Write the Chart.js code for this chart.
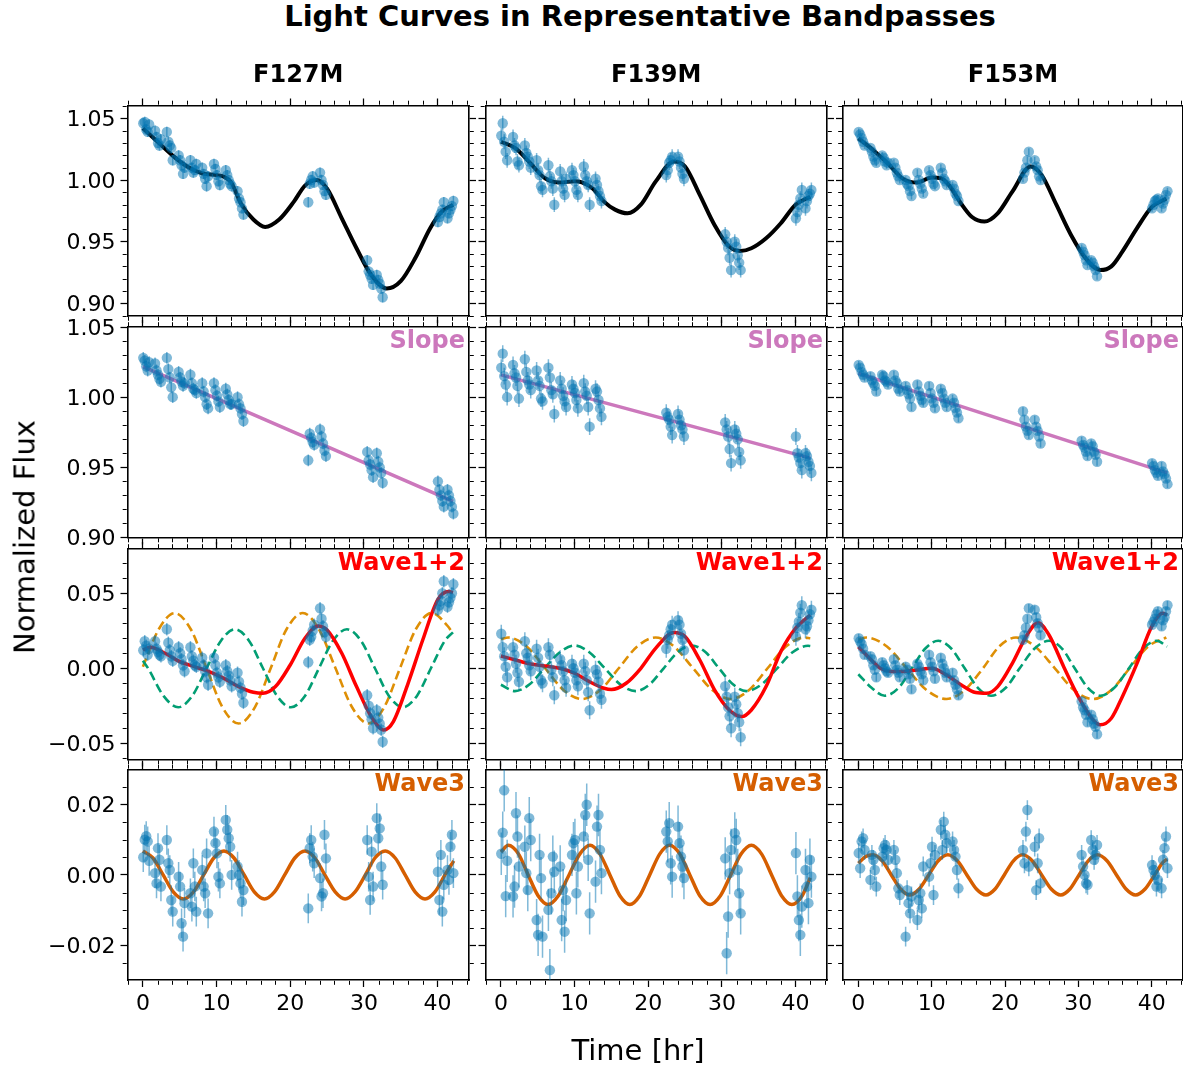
<!DOCTYPE html>
<html><head><meta charset="utf-8">
<script src="https://cdn.jsdelivr.net/npm/chart.js@4.4.1/dist/chart.umd.min.js"></script>
<style>
html,body{margin:0;padding:0;background:#fff;overflow:hidden;}
#fig{position:relative;width:1183px;height:1065px;overflow:hidden;font-family:"DejaVu Sans",sans-serif;color:#000;background:#fff;}
#fig canvas{position:absolute;}
.txt{position:absolute;white-space:nowrap;line-height:1;z-index:5;}
</style></head><body><div id="fig"></div>
<script>
// ---------------- DATA ----------------
const bands = ['F127M', 'F139M', 'F153M'];
const panelLabels = ['', 'Slope', 'Wave1+2', 'Wave3'];
const errF = [0.0042, 0.006, 0.0028];

const times = [
0.05,0.25,0.45,0.65,0.85, 1.65,1.85,2.05,2.25,2.45, 3.25,3.45,3.65,3.85,4.05,
4.85,5.05,5.25,5.45,5.65, 6.45,6.65,6.85,7.05,7.25, 8.05,8.25,8.45,8.65,8.85,
9.65,9.85,10.05,10.25,10.45, 11.25,11.45,11.65,11.85,12.05, 12.85,13.05,13.25,13.45,13.65,
22.45,22.65,22.85,23.05,23.25, 24.05,24.25,24.45,24.65,24.85,
30.45,30.65,30.85,31.05,31.25, 31.75,31.95,32.15,32.35,32.55,
40.05,40.25,40.45,40.65,40.85, 41.35,41.55,41.75,41.95,42.15];

// Row 1: full light curves
const full127 = [
1.046,1.047,1.041,1.039,1.045, 1.040,1.035,1.030,1.028,1.033, 1.039,1.031,1.028,1.026,1.016,
1.020,1.016,1.012,1.005,1.010, 1.016,1.010,1.006,1.008,1.013, 1.010,1.005,1.001,0.995,1.003,
1.013,1.009,1.004,0.999,0.996, 1.008,1.004,1.000,0.997,0.995, 0.991,0.985,0.982,0.977,0.972,
0.982,0.997,1.000,1.003,0.998, 1.006,1.000,0.996,0.991,0.988,
0.935,0.926,0.923,0.920,0.915, 0.923,0.919,0.916,0.912,0.905,
0.966,0.970,0.973,0.976,0.982, 0.969,0.973,0.976,0.979,0.983];
const full139 = [
1.036,1.046,1.031,1.023,1.016, 1.035,1.028,1.026,1.015,1.012, 1.028,1.022,1.019,1.015,1.010,
1.016,1.008,1.004,0.995,0.992, 1.012,1.003,0.999,0.993,0.980, 1.007,0.999,0.993,0.988,1.001,
1.008,1.004,0.999,0.992,0.988, 1.011,1.004,0.999,0.996,0.980, 1.001,0.996,0.991,0.987,0.983,
1.004,1.008,1.014,1.016,1.019, 1.019,1.015,1.010,1.005,1.001,
0.956,0.950,0.945,0.937,0.927, 0.950,0.946,0.939,0.933,0.927,
0.969,0.974,0.980,0.985,0.992, 0.977,0.983,0.987,0.989,0.992];
const full153 = [
1.039,1.037,1.034,1.031,1.028, 1.026,1.023,1.019,1.016,1.014, 1.020,1.018,1.015,1.012,1.014,
1.014,1.010,1.006,1.003,1.000, 1.000,0.997,0.995,0.991,0.987, 1.006,1.000,0.997,0.993,0.989,
1.008,1.004,1.001,0.997,0.995, 1.010,1.006,1.001,0.999,0.996, 0.996,0.993,0.989,0.987,0.983,
1.001,1.006,1.010,1.016,1.023, 1.016,1.011,1.008,1.003,1.000,
0.945,0.942,0.939,0.935,0.931, 0.935,0.933,0.930,0.927,0.922,
0.977,0.980,0.983,0.984,0.985, 0.977,0.981,0.984,0.988,0.991];

// Row 2: slope component
const slope127 = [
1.028,1.026,1.022,1.019,1.025, 1.024,1.019,1.016,1.013,1.011, 1.028,1.020,1.014,1.007,1.000,
1.018,1.014,1.011,1.008,1.010, 1.016,1.010,1.006,1.005,1.003, 1.010,1.004,1.000,0.995,0.992,
1.010,1.005,1.001,0.997,0.993, 1.006,1.002,0.998,0.995,0.995, 1.000,0.995,0.992,0.988,0.983,
0.955,0.974,0.971,0.968,0.966, 0.977,0.972,0.967,0.962,0.958,
0.961,0.955,0.952,0.948,0.943, 0.960,0.954,0.950,0.946,0.939,
0.940,0.934,0.930,0.926,0.922, 0.934,0.930,0.926,0.922,0.917];
const slope139 = [
1.021,1.031,1.015,1.009,1.000, 1.023,1.017,1.014,1.008,0.999, 1.027,1.018,1.012,1.009,1.005,
1.019,1.012,1.008,0.999,0.997, 1.021,1.014,1.005,1.002,0.988, 1.012,1.006,1.001,0.997,0.993,
1.009,1.006,1.003,0.998,0.992, 1.010,1.004,1.001,0.993,0.979, 1.006,1.004,0.998,0.992,0.986,
0.989,0.986,0.984,0.979,0.973, 0.988,0.984,0.980,0.977,0.972,
0.982,0.977,0.972,0.963,0.953, 0.977,0.974,0.970,0.961,0.955,
0.972,0.960,0.957,0.953,0.948, 0.960,0.958,0.954,0.951,0.946];
const slope153 = [
1.023,1.021,1.018,1.016,1.014, 1.015,1.012,1.010,1.008,1.004, 1.016,1.015,1.012,1.011,1.009,
1.016,1.012,1.010,1.006,1.004, 1.008,1.005,1.002,0.999,0.993, 1.009,1.004,1.001,0.998,0.996,
1.008,1.003,0.999,0.996,0.992, 1.006,1.003,0.999,0.996,0.993, 0.999,0.996,0.992,0.989,0.985,
0.990,0.984,0.979,0.976,0.973, 0.984,0.979,0.976,0.972,0.967,
0.969,0.966,0.964,0.961,0.958, 0.967,0.965,0.961,0.959,0.954,
0.953,0.951,0.948,0.946,0.944, 0.951,0.947,0.945,0.942,0.938];

// Row 3: wave 1+2 component
const wave127 = [
0.012,0.018,0.015,0.009,0.013, 0.018,0.013,0.011,0.009,0.008, 0.026,0.017,0.012,0.008,0.005,
0.014,0.010,0.006,0.002,-0.002, 0.014,0.008,0.005,0.002,0.001, 0.007,0.002,-0.002,-0.006,-0.011,
0.007,0.002,-0.003,-0.006,-0.009, 0.002,-0.002,-0.005,-0.008,-0.012, -0.003,-0.009,-0.013,-0.017,-0.023,
0.004,0.019,0.021,0.025,0.029, 0.040,0.033,0.028,0.024,0.021,
-0.018,-0.025,-0.030,-0.034,-0.040, -0.028,-0.033,-0.037,-0.041,-0.049,
0.039,0.042,0.045,0.050,0.058, 0.041,0.044,0.047,0.050,0.056];
const wave139 = [
0.023,0.014,0.008,0.001,-0.006, 0.014,0.009,0.003,-0.003,-0.009, 0.018,0.010,0.007,0.002,-0.002,
0.013,0.007,0.001,-0.008,-0.010, 0.014,0.009,-0.001,-0.006,-0.018, 0.006,0.002,-0.002,-0.008,-0.013,
0.003,0.000,-0.003,-0.008,-0.012, 0.003,-0.002,-0.008,-0.016,-0.028, -0.001,-0.004,-0.009,-0.017,-0.021,
0.013,0.019,0.022,0.026,0.029, 0.032,0.029,0.023,0.019,0.012,
-0.012,-0.019,-0.026,-0.032,-0.040, -0.019,-0.024,-0.030,-0.036,-0.046,
0.021,0.027,0.031,0.037,0.042, 0.026,0.028,0.032,0.036,0.039];
const wave153 = [
0.020,0.018,0.016,0.013,0.009, 0.008,0.006,0.002,-0.001,-0.006, 0.004,0.002,0.000,-0.002,-0.003,
0.006,0.002,-0.001,-0.003,-0.006, 0.001,-0.001,-0.004,-0.007,-0.014, 0.003,0.001,-0.002,-0.004,-0.008,
0.009,0.004,0.001,-0.002,-0.007, 0.007,0.003,0.000,-0.003,-0.006, -0.003,-0.008,-0.011,-0.014,-0.018,
0.019,0.022,0.027,0.033,0.040, 0.039,0.034,0.030,0.027,0.022,
-0.022,-0.026,-0.028,-0.031,-0.036, -0.031,-0.034,-0.037,-0.039,-0.044,
0.029,0.031,0.033,0.036,0.038, 0.028,0.032,0.034,0.038,0.042];

// Row 4: wave 3 component
const res127 = [
0.005,0.010,0.011,0.0095,0.004, 0.0005,-0.0024,0.0076,0.0043,-0.0033, 0.0099,0.0033,0.0014,-0.0071,-0.0104,
-0.0005,-0.0033,-0.0137,-0.0175,-0.008, -0.0052,-0.009,0.0033,-0.0033,-0.0104, 0.0014,-0.0033,-0.0052,0.0061,-0.0109,
0.0123,0.009,0.0061,-0.0005,-0.0024, 0.0156,0.0128,0.0104,0.008,0.0, 0.0024,0.0,-0.0024,-0.0076,-0.0043,
-0.0095,0.0076,0.0099,0.0052,0.0033, -0.0009,-0.0061,-0.0052,0.0114,0.0047,
0.0099,-0.0005,-0.0071,0.0066,-0.0033, 0.0161,0.0104,0.0132,0.0024,-0.0028,
0.0009,-0.0071,0.0057,-0.0104,-0.0028, 0.0014,-0.0014,0.008,0.0114,0.0005];
const res139 = [
0.006,0.012,0.024,-0.006,0.004, -0.0061,-0.0033,0.0175,0.0109,0.0024, 0.008,0.0005,-0.0043,0.0161,0.0099,
-0.0128,-0.017,0.0057,-0.0009,-0.0175, -0.0099,-0.027,-0.0052,0.0052,0.0009, 0.0024,-0.0128,-0.0043,-0.0161,-0.0071,
0.0057,0.009,0.0099,-0.0052,0.0024, 0.0109,0.017,0.0199,0.0043,-0.0109, -0.0019,0.0137,0.017,0.0071,0.0005,
0.0123,0.0095,0.0147,0.0033,-0.0005, 0.0137,0.009,0.0052,0.0024,-0.0009,
0.0047,-0.0222,-0.0118,0.0005,0.0071, 0.0118,0.0099,0.0014,-0.0052,-0.0109,
0.0062,-0.0061,-0.0128,-0.017,-0.009, 0.0014,-0.0033,-0.008,0.0043,-0.0005];
const res153 = [
0.0062,0.0019,0.0095,0.0104,0.0071, -0.0014,0.0057,0.0043,0.0014,-0.0033, 0.0052,0.0076,0.0085,0.0071,0.0043,
0.0071,0.0043,0.0005,-0.0038,-0.0057, -0.0175,-0.0043,-0.008,-0.0109,-0.0061, -0.0128,-0.0071,-0.0052,-0.0095,0.0024,
-0.0005,0.0033,0.008,-0.0057,0.0057, 0.0128,0.0071,0.0151,0.0114,0.009, 0.0095,0.0071,0.0052,0.0014,-0.0038,
0.0071,0.0033,0.0123,0.0184,0.0024, 0.008,-0.0043,0.0033,0.0104,-0.0024,
0.0057,0.0024,0.0,-0.0024,-0.0028, 0.0099,0.0071,0.0043,0.0057,0.0085,
0.0028,0.0014,0.0,-0.0033,-0.0014, -0.0038,0.0043,0.0076,0.0109,0.0019];

// Model curves, [time, value]
const fullModel127 = [[0,1.042],[2,1.031],[4,1.020],[6,1.011],[8,1.0055],[10,1.004],[11,1.0027],[12,0.998],[13.3,0.981],[15,0.968],[16.6,0.962],[18.5,0.968],[20.5,0.9825],[22,0.9955],[23.6,1.000],[25,0.993],[27,0.969],[29,0.9447],[31,0.923],[33.1,0.912],[35,0.918],[37,0.937],[39,0.961],[40.5,0.974],[42.1,0.980]];
const fullModel139 = [[0,1.031],[2,1.0257],[4,1.0136],[6,1.0014],[8,0.998],[10,0.999],[11,0.998],[12.5,0.993],[14,0.9825],[15.5,0.976],[17.2,0.973],[19,0.980],[21,0.9987],[23.5,1.015],[25,1.011],[27,0.988],[29,0.9636],[31,0.946],[32.5,0.9425],[34,0.9447],[36,0.9528],[38,0.965],[40,0.980],[42,0.9865]];
const fullModel153 = [[0,1.0338],[2,1.0244],[4,1.0136],[6,1.0014],[8,0.998],[10,1.002],[11.3,1.0014],[12.5,0.9947],[14,0.981],[15.5,0.970],[17.2,0.9663],[19,0.973],[21,0.9906],[23.5,1.011],[25,1.004],[27,0.980],[29,0.9555],[31,0.9366],[33,0.927],[34.5,0.930],[36,0.942],[38,0.961],[40,0.978],[42,0.985]];

const slopeModel127 = [[0,1.0218],[42.1,0.9258]];
const slopeModel139 = [[0,1.0159],[42,0.9566]];
const slopeModel153 = [[0,1.017],[42.1,0.946]];

const waveSum127 = [[0,0.0122],[1,0.014],[3,0.010],[5,0.0044],[7,0.0011],[9,-0.0022],[11,-0.0067],[13,-0.0122],[15,-0.016],[16.3,-0.0167],[18,-0.0122],[20,0.0022],[22,0.020],[23.8,0.0282],[25,0.0255],[27,0.010],[29,-0.0122],[31,-0.0322],[32.7,-0.0411],[34,-0.0355],[36,-0.010],[38,0.019],[40,0.0455],[41.5,0.0511],[42.1,0.0504]];
const waveA127 = [[0,0.001],[2.15,0.026],[4.3,0.0368],[6.5,0.026],[8.65,0],[10.8,-0.026],[13,-0.0368],[15.2,-0.026],[17.35,0],[19.5,0.026],[21.7,0.0368],[23.9,0.026],[26.15,0],[28.4,-0.026],[30.6,-0.0368],[32.75,-0.026],[34.9,0],[37.05,0.026],[39.2,0.0368],[41.4,0.028],[42.1,0.023]];
const waveB127 = [[0,0.005],[0.7,0],[2.8,-0.0184],[4.8,-0.026],[6.7,-0.0184],[8.65,0],[10.6,0.0184],[12.5,0.026],[14.4,0.0184],[16.3,0],[18.2,-0.0184],[20.1,-0.026],[22.0,-0.0184],[23.9,0],[25.8,0.0184],[27.7,0.026],[29.6,0.0184],[31.5,0],[33.4,-0.0184],[35.3,-0.026],[37.2,-0.0184],[39.1,0],[41.0,0.0184],[42.1,0.024]];

const waveSum139 = [[0,0.0082],[2,0.0055],[4,0.0029],[6,0.0016],[8,0.0],[10,-0.0033],[12,-0.0089],[14,-0.0133],[15,-0.0142],[17,-0.010],[19,0],[21,0.0133],[23.5,0.0238],[25,0.0211],[27,0.0055],[29,-0.0144],[31,-0.0278],[32.7,-0.0322],[34,-0.0278],[36,-0.0122],[38,0.0111],[40,0.0266],[42,0.0355]];
const waveA139 = [[0,0.0195],[1.0,0.0205],[3.5,0.0145],[6.0,0.0],[8.5,-0.0145],[11.0,-0.0205],[13.5,-0.0145],[16.0,0.0],[18.5,0.0145],[21.0,0.0205],[23.5,0.0145],[26.1,0.0],[28.7,-0.0145],[31.2,-0.0205],[33.7,-0.0145],[36.2,0.0],[38.7,0.0145],[41.2,0.0205],[42.0,0.020]];
const waveB139 = [[0,-0.011],[1.9,-0.0152],[3.9,-0.0107],[5.9,0.0],[8.0,0.0107],[10.0,0.0152],[12.0,0.0107],[14.1,0.0],[16.2,-0.0107],[18.3,-0.0152],[20.2,-0.0107],[22.1,0.0],[24.0,0.0107],[25.9,0.0152],[27.8,0.0107],[29.6,0.0],[31.5,-0.0107],[33.3,-0.0152],[35.4,-0.0107],[37.5,0.0],[39.6,0.0107],[41.7,0.0150],[42.0,0.0148]];

const waveSum153 = [[0,0.0144],[2,0.0044],[3,0],[4.5,-0.0022],[6,-0.0022],[8,-0.0011],[10,0],[12,-0.0044],[14,-0.011],[16,-0.0162],[17.5,-0.0167],[19,-0.0122],[21,0.0033],[23,0.0222],[24.5,0.0304],[26,0.0222],[28,0.0011],[30,-0.0189],[32,-0.0344],[33,-0.0377],[34.5,-0.0333],[36,-0.0189],[38,0.0033],[40,0.0278],[41.5,0.0366],[42.1,0.0355]];
const waveA153 = [[0,0.019],[1.1,0.0205],[3.9,0.0145],[6.6,0.0],[9.3,-0.0145],[12.0,-0.0205],[14.5,-0.0145],[17.0,0.0],[19.2,0.0145],[21.5,0.0205],[24.1,0.0145],[26.8,0.0],[29.4,-0.0145],[32.0,-0.0205],[34.5,-0.0145],[37.0,0.0],[39.5,0.0145],[42.0,0.0205]];
const waveB153 = [[0,-0.004],[1.8,-0.013],[3.6,-0.0183],[5.5,-0.013],[7.3,0.0],[9.1,0.013],[10.9,0.0183],[12.7,0.013],[14.5,0.0],[16.3,-0.013],[18.1,-0.0183],[20.1,-0.013],[22.0,0.0],[24.0,0.013],[26.0,0.0183],[27.8,0.013],[29.5,0.0],[31.3,-0.013],[33.0,-0.0183],[34.9,-0.013],[36.9,0.0],[38.8,0.013],[40.7,0.0183],[42.1,0.0145]];

const wave3Model127 = [[0,0.0068],[1.37,0.0048],[2.75,0],[4.12,-0.0048],[5.5,-0.0068],[6.87,-0.0048],[8.25,0],[9.62,0.0048],[11,0.0068],[12.37,0.0048],[13.75,0],[15.12,-0.0048],[16.5,-0.0068],[17.87,-0.0048],[19.25,0],[20.62,0.0048],[22,0.0068],[23.36,0.0048],[24.7,0],[26.1,-0.0048],[27.45,-0.0068],[28.8,-0.0048],[30.2,0],[31.5,0.0048],[32.9,0.0068],[34.25,0.0048],[35.6,0],[36.95,-0.0048],[38.3,-0.0068],[39.65,-0.0048],[41.0,0],[42.2,0.0040]];
const wave3Model139 = [[0,0.0065],[1.0,0.0084],[2.4,0.0059],[3.7,0],[5.05,-0.0059],[6.4,-0.0084],[7.8,-0.0059],[9.25,0],[10.7,0.0059],[12.1,0.0084],[13.45,0.0059],[14.8,0],[16.15,-0.0059],[17.5,-0.0084],[18.85,-0.0059],[20.2,0],[21.55,0.0059],[22.9,0.0084],[24.3,0.0059],[25.65,0],[27.0,-0.0059],[28.4,-0.0084],[29.8,-0.0059],[31.2,0],[32.6,0.0059],[34.0,0.0084],[35.4,0.0059],[36.75,0],[38.1,-0.0059],[39.5,-0.0084],[40.9,-0.0059],[42.0,-0.0008]];
const wave3Model153 = [[0,0.0033],[1.0,0.0052],[2.0,0.0057],[3.25,0.004],[4.5,0],[5.75,-0.004],[7.0,-0.0057],[8.3,-0.004],[9.6,0],[10.9,0.004],[12.2,0.0057],[13.5,0.004],[14.8,0],[16.1,-0.004],[17.4,-0.0057],[18.65,-0.004],[19.9,0],[21.15,0.004],[22.4,0.0057],[23.7,0.004],[25.0,0],[26.3,-0.004],[27.6,-0.0057],[28.85,-0.004],[30.1,0],[31.35,0.004],[32.6,0.0057],[33.9,0.004],[35.2,0],[36.5,-0.004],[37.8,-0.0057],[39.1,-0.004],[40.4,0],[41.5,0.0035],[42.1,0.0045]];

// Axis specs
const xMin = -2.09, xMax = 44.27, xMajor = 10, xMinor = 2;
const rowYMin = [0.8898, 0.90, -0.0608, -0.0298];
const rowYMax = [1.0604, 1.05, 0.0795, 0.0299];
const rowMajor = [0.05, 0.05, 0.05, 0.02];
const rowMinor = [0.01, 0.01, 0.01, 0.005];

// ---------------- STYLES / LAYOUT ----------------
const C_PTS = 'rgba(1,115,178,0.5)';
const C_BLACK = '#000000', C_SLOPE = '#cc78bc', C_RED = '#ff0000', C_ORANGE = '#de8f05', C_GREEN = '#029e73', C_W3 = '#d55e00';
const labelColors = ['', C_SLOPE, C_RED, C_W3];
const colLeft = [127.5, 485.5, 843];
const colWidth = [341.5, 341.5, 340];
const rowTop = [105.5, 327, 549, 769.5];
const panelH = 210.5;
const TICK_FONT = 22;
const MARGIN = 24;

const ptsByRow = [[full127, full139, full153],[slope127, slope139, slope153],[wave127, wave139, wave153],[res127, res139, res153]];
const curvesByRow = [
  [[{d:fullModel127,c:C_BLACK,w:4}],[{d:fullModel139,c:C_BLACK,w:4}],[{d:fullModel153,c:C_BLACK,w:4}]],
  [[{d:slopeModel127,c:C_SLOPE,w:3.5}],[{d:slopeModel139,c:C_SLOPE,w:3.5}],[{d:slopeModel153,c:C_SLOPE,w:3.5}]],
  [[{d:waveA127,c:C_ORANGE,w:2.6,dash:[9,4.5]},{d:waveB127,c:C_GREEN,w:2.6,dash:[9,4.5]},{d:waveSum127,c:C_RED,w:3.5}],
   [{d:waveA139,c:C_ORANGE,w:2.6,dash:[9,4.5]},{d:waveB139,c:C_GREEN,w:2.6,dash:[9,4.5]},{d:waveSum139,c:C_RED,w:3.5}],
   [{d:waveA153,c:C_ORANGE,w:2.6,dash:[9,4.5]},{d:waveB153,c:C_GREEN,w:2.6,dash:[9,4.5]},{d:waveSum153,c:C_RED,w:3.5}]],
  [[{d:wave3Model127,c:C_W3,w:3.5}],[{d:wave3Model139,c:C_W3,w:3.5}],[{d:wave3Model153,c:C_W3,w:3.5}]]
];

Chart.defaults.font.family = "'DejaVu Sans', sans-serif";
Chart.defaults.color = '#000';
const fig = document.getElementById('fig');

const errBarPlugin = {
  id: 'errBars',
  beforeDatasetDraw(chart, args) {
    const ds = chart.data.datasets[args.index];
    if (ds.errY == null) return;
    const ctx = chart.ctx, xs = chart.scales.x, ys = chart.scales.y, a = chart.chartArea;
    ctx.save();
    ctx.beginPath(); ctx.rect(a.left, a.top, a.right - a.left, a.bottom - a.top); ctx.clip();
    ctx.strokeStyle = ds.errColor; ctx.lineWidth = 1.5;
    ds.data.forEach(p => {
      const px = xs.getPixelForValue(p.x);
      ctx.beginPath();
      ctx.moveTo(px, ys.getPixelForValue(p.y - ds.errY));
      ctx.lineTo(px, ys.getPixelForValue(p.y + ds.errY));
      ctx.stroke();
    });
    ctx.restore();
  }
};

function eachMinor(min, max, step, major, fn) {
  for (let k = Math.ceil(min / step - 1e-9); k * step <= max + 1e-12; k++) {
    const v = k * step, q = v / major;
    if (Math.abs(q - Math.round(q)) < 1e-6) continue;
    fn(v);
  }
}
const minorTickPlugin = {
  id: 'minorTicks',
  afterDraw(chart, args, o) {
    const ctx = chart.ctx, a = chart.chartArea, xs = chart.scales.x, ys = chart.scales.y;
    const L = 4, off = 0.8;
    ctx.save(); ctx.strokeStyle = '#000'; ctx.lineWidth = 1; ctx.beginPath();
    eachMinor(xs.min, xs.max, o.xStep, o.xMajor, v => {
      const p = Math.round(xs.getPixelForValue(v)) + 0.5;
      ctx.moveTo(p, a.bottom + off); ctx.lineTo(p, a.bottom + off + L);
      ctx.moveTo(p, a.top - off); ctx.lineTo(p, a.top - off - L);
    });
    eachMinor(ys.min, ys.max, o.yStep, o.yMajor, v => {
      const p = Math.round(ys.getPixelForValue(v)) + 0.5;
      ctx.moveTo(a.left - off, p); ctx.lineTo(a.left - off - L, p);
      ctx.moveTo(a.right + off, p); ctx.lineTo(a.right + off + L, p);
    });
    ctx.stroke(); ctx.restore();
  }
};

const fmtY = v => { const a = Math.abs(v) < 1e-9 ? 0 : v; return (a < 0 ? '\u2212' : '') + Math.abs(a).toFixed(2); };
const gridOpts = {display: true, drawOnChartArea: false, drawTicks: true, tickLength: 7, tickWidth: 1.25, tickColor: '#000', color: '#000'};
const borderOpts = {display: true, color: '#000', width: 1.6};

function axisX(pos, labels, size) {
  return {type: 'linear', position: pos, min: xMin, max: xMax, bounds: 'ticks',
    ticks: {display: labels, stepSize: xMajor, includeBounds: false, autoSkip: false, maxRotation: 0, minRotation: 0,
      padding: 4, color: '#000', font: {size: TICK_FONT}, callback: v => String(v)},
    grid: gridOpts, border: borderOpts, afterFit: s => { s.height = size; }};
}
function axisY(pos, labels, size, r) {
  return {type: 'linear', position: pos, min: rowYMin[r], max: rowYMax[r], bounds: 'ticks',
    ticks: {display: labels, stepSize: rowMajor[r], includeBounds: false, autoSkip: false,
      padding: 5, labelOffset: 2, color: '#000', font: {size: TICK_FONT}, callback: v => fmtY(v)},
    grid: gridOpts, border: borderOpts, afterFit: s => { s.width = size; }};
}

function makePanel(r, c) {
  const PL = colLeft[c], PT = rowTop[r], PW = colWidth[c], PH = panelH;
  const cl = c === 0 ? 0 : Math.floor(PL - MARGIN);
  const ct = Math.floor(PT - MARGIN);
  const mL = PL - cl, mT = PT - ct;
  const cw = Math.ceil(mL + PW + MARGIN), ch = Math.ceil(mT + PH + (r === 3 ? 60 : MARGIN));
  const mR = cw - mL - PW, mB = ch - mT - PH;
  const canvas = document.createElement('canvas');
  canvas.width = cw; canvas.height = ch;
  canvas.style.left = cl + 'px'; canvas.style.top = ct + 'px';
  fig.appendChild(canvas);

  const curves = curvesByRow[r][c];
  const datasets = curves.map((cv, k) => ({
    data: cv.d.map(p => ({x: p[0], y: p[1]})),
    borderColor: cv.c, borderWidth: cv.w, borderDash: cv.dash || [],
    pointRadius: 0, pointHoverRadius: 0, fill: false, showLine: true,
    cubicInterpolationMode: 'monotone', order: curves.length - k
  }));
  datasets.push({
    data: times.map((t, i) => ({x: t, y: ptsByRow[r][c][i]})),
    showLine: false, pointRadius: 5.2, pointHoverRadius: 5.2,
    pointBackgroundColor: C_PTS, pointBorderWidth: 0, pointBorderColor: 'rgba(0,0,0,0)',
    errY: errF[c], errColor: C_PTS, order: 0
  });

  new Chart(canvas, {
    type: 'line',
    data: {datasets},
    options: {
      responsive: false, animation: false, devicePixelRatio: 1, events: [],
      layout: {padding: 0},
      plugins: {legend: {display: false}, tooltip: {enabled: false},
        minorTicks: {xStep: xMinor, xMajor: xMajor, yStep: rowMinor[r], yMajor: rowMajor[r]}},
      scales: {
        x: axisX('bottom', r === 3, mB),
        x2: axisX('top', false, mT),
        y: axisY('left', c === 0, mL, r),
        y2: axisY('right', false, mR, r)
      }
    },
    plugins: [errBarPlugin, minorTickPlugin]
  });
}

for (let r = 0; r < 4; r++) for (let c = 0; c < 3; c++) makePanel(r, c);

// ---------------- TEXT ----------------
function addText(txt, x, y, size, bold, color, tf) {
  const d = document.createElement('div');
  d.className = 'txt'; d.textContent = txt;
  d.style.left = x + 'px'; d.style.top = y + 'px';
  d.style.fontSize = size + 'px'; d.style.fontWeight = bold ? 'bold' : 'normal';
  d.style.color = color; d.style.transform = tf;
  fig.appendChild(d);
}
addText('Light Curves in Representative Bandpasses', 640, 16, 29, true, '#000', 'translate(-50%,-50%)');
bands.forEach((b, c) => addText(b, colLeft[c] + colWidth[c] / 2, 74, 24, true, '#000', 'translate(-50%,-50%)'));
for (let r = 1; r < 4; r++) for (let c = 0; c < 3; c++)
  addText(panelLabels[r], colLeft[c] + colWidth[c] - 4, rowTop[r] + 13, 24, true, labelColors[r], 'translate(-100%,-50%)');
addText('Normalized Flux', 25, 537, 29, false, '#000', 'translate(-50%,-50%) rotate(-90deg)');
addText('Time [hr]', 638, 1050, 29, false, '#000', 'translate(-50%,-50%)');
</script></body></html>
